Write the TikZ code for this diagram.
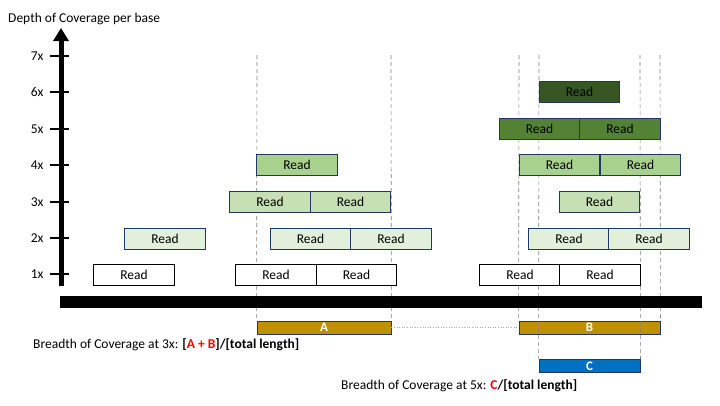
\documentclass[tikz,border=0pt]{standalone}
\usepackage{fontspec}
\setmainfont{Carlito}
\usetikzlibrary{arrows.meta}
\definecolor{rowtwo}{HTML}{E2EFDA}
\definecolor{rowthree}{HTML}{C6E0B4}
\definecolor{rowfour}{HTML}{A9D18E}
\definecolor{rowfive}{HTML}{548235}
\definecolor{rowsix}{HTML}{375623}
\definecolor{navy}{HTML}{1F3864}
\definecolor{gold}{HTML}{BF9000}
\definecolor{cblue}{HTML}{0070C0}
\definecolor{redtxt}{HTML}{FF0000}
\tikzset{
  readbox/.style={draw=navy, line width=0.9pt, minimum width=80.5pt, minimum height=21pt, inner sep=0pt, font=\fontsize{13.5}{15}\selectfont, text=black},
  whitebox/.style={readbox, draw=black, fill=white},
  region/.style={draw=navy, line width=0.9pt, minimum height=13pt, inner sep=0pt, text=white, font=\bfseries\fontsize{13}{14}\selectfont},
  guide/.style={draw=gray, dash pattern=on 4pt off 3pt, line width=0.6pt},
  tick/.style={line width=2.5pt},
  ticklab/.style={anchor=east, font=\fontsize{13.5}{15}\selectfont},
  lbl/.style={anchor=west, font=\fontsize{13.5}{15}\selectfont, inner sep=0pt}
}
\begin{document}
\begin{tikzpicture}[x=1pt, y=-1pt]
\useasboundingbox (0,0) rectangle (720,405);
% guides tops
\foreach \n/\x in {g1/257, g2/391, g3/519, g4/539, g5/640, g6/660}
  \coordinate (\n) at (\x,55);
% region boxes
\node[region, fill=gold, minimum width=134pt] (A) at (324,327.5) {A};
\node[region, fill=gold, minimum width=141pt] (B) at (589.5,327.5) {B};
\node[region, fill=cblue, minimum width=101pt] (C) at (589.5,366) {C};
% dashed guides
\draw[guide] (g1) -- (A.north west);
\draw[guide] (g2) -- (A.north east);
\draw[guide] (g3) -- (B.north west);
\draw[guide] (g6) -- (B.north east);
\draw[guide] (g4) -- (C.north west);
\draw[guide] (g5) -- (C.north east);
\draw[gray!70, dotted, line width=0.6pt] (A.east) -- (B.west);
% genome bar
\node[fill=black, minimum width=642pt, minimum height=12pt, inner sep=0pt] (genome) at (381,302) {};
% reads row 1
\node[whitebox] (r11) at (134,275) {Read};
\node[whitebox] (r12) at (276,275) {Read};
\node[whitebox] (r13) at (356.5,275) {Read};
\node[whitebox] (r14) at (520,275) {Read};
\node[whitebox] (r15) at (600,275) {Read};
% row 2
\node[readbox, fill=rowtwo] (r21) at (165,238.5) {Read};
\node[readbox, fill=rowtwo] (r22) at (310.5,238.5) {Read};
\node[readbox, fill=rowtwo] (r23) at (391,238.5) {Read};
\node[readbox, fill=rowtwo] (r24) at (569,238.5) {Read};
\node[readbox, fill=rowtwo] (r25) at (649,238.5) {Read};
% row 3
\node[readbox, fill=rowthree] (r31) at (270,202) {Read};
\node[readbox, fill=rowthree] (r32) at (350.5,202) {Read};
\node[readbox, fill=rowthree] (r33) at (599.5,202) {Read};
% row 4
\node[readbox, fill=rowfour] (r41) at (297,165) {Read};
\node[readbox, fill=rowfour] (r42) at (559.5,165) {Read};
\node[readbox, fill=rowfour] (r43) at (640.5,165) {Read};
% row 5
\node[readbox, fill=rowfive] (r51) at (539.5,129) {Read};
\node[readbox, fill=rowfive] (r52) at (620,128.5) {Read};
% row 6
\node[readbox, fill=rowsix] (r61) at (579.5,92) {Read};
% axis
\coordinate (axb) at (61,286);
\coordinate (axt) at (61,28);
\draw[line width=5pt, -{Triangle[width=15pt,length=13pt]}] (axb) -- (axt);
\foreach \i/\y in {1/274,2/238,3/202,4/165,5/129,6/92,7/56}{
  \coordinate (t\i a) at (50,\y);
  \coordinate (t\i b) at (69,\y);
  \draw[tick] (t\i a) -- (t\i b);
  \node[ticklab] (tl\i) at (47,\y) {\i x};
}
\node[lbl] (title) at (8,19) {Depth of Coverage per base};
\node[lbl] (b3) at (33,345) {Breadth of Coverage at 3x: \textbf{[\textcolor{redtxt}{A + B}]/[total length]}};
\node[lbl] (b5) at (341,386) {Breadth of Coverage at 5x: \textbf{\textcolor{redtxt}{C}/[total length]}};
\end{tikzpicture}
\end{document}
